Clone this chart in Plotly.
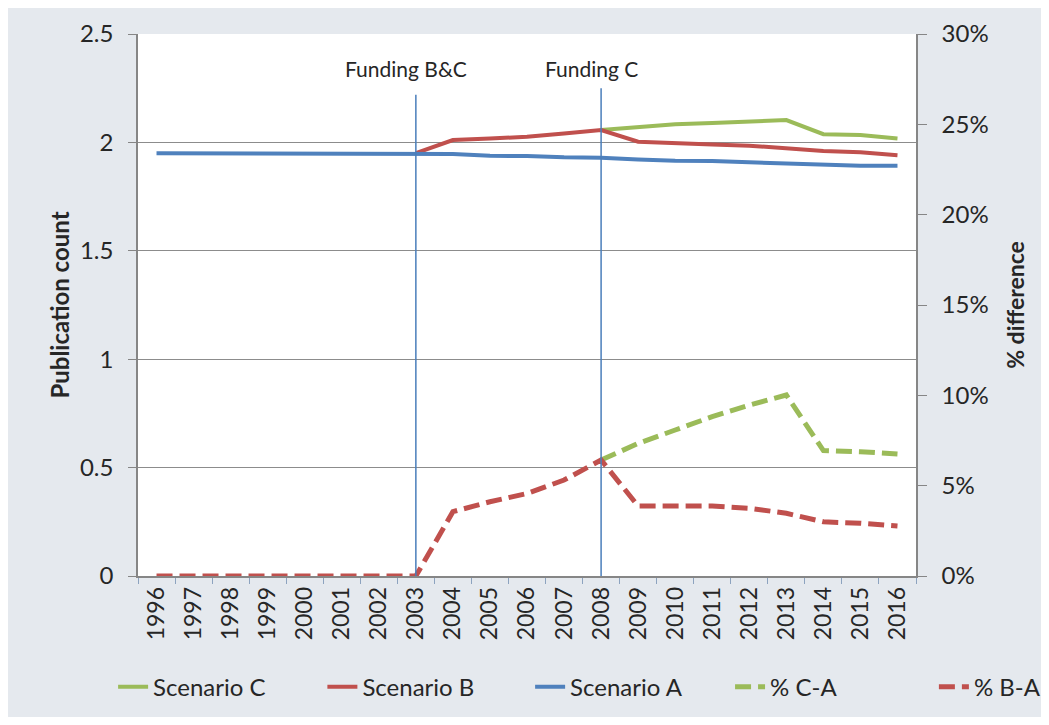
import plotly.graph_objects as go

years = [str(y) for y in range(1996, 2017)]

scenario_c = [None]*12 + [2.057, 2.072, 2.084, 2.090, 2.095, 2.103, 2.038, 2.034, 2.018]
scenario_b = [None]*7 + [1.950, 2.011, 2.018, 2.026, 2.041, 2.057, 2.003, 1.995, 1.990, 1.985, 1.972, 1.960, 1.954, 1.941]
scenario_a = [1.950]*8 + [1.946, 1.938, 1.937, 1.931, 1.929, 1.921, 1.915, 1.914, 1.909, 1.903, 1.897, 1.892, 1.892]
pct_c_a = [None]*12 + [6.42, 7.34, 8.08, 8.82, 9.46, 10.02, 6.94, 6.88, 6.75]
pct_b_a = [0.0]*8 + [3.56, 4.11, 4.57, 5.31, 6.42, 3.87, 3.87, 3.87, 3.75, 3.47, 3.00, 2.92, 2.77]

events = ["Funding B&C", "Funding C"]
event_years = ["2003", "2008"]
event_tops = [2.22, 2.25]

GREEN = "#9bbb59"
RED = "#c0504d"
BLUE = "#4f81bd"
FONT = "Lato, 'Open Sans', sans-serif"
TXT = "#262626"

series = [
    ("Scenario C", scenario_c, GREEN, "solid", "y"),
    ("Scenario B", scenario_b, RED, "solid", "y"),
    ("Scenario A", scenario_a, BLUE, "solid", "y"),
    ("% C-A", pct_c_a, GREEN, "dash", "y2"),
    ("% B-A", pct_b_a, RED, "dash", "y2"),
]
legend_x = [-0.032, 0.237, 0.504, 0.761, 1.023]

fig = go.Figure()
legend_layouts = {}
for i, (name, vals, color, style, yax) in enumerate(series):
    lg = "legend" if i == 0 else f"legend{i+1}"
    line = dict(color=color, width=4) if style == "solid" else dict(color=color, width=5, dash="16px,7px")
    fig.add_trace(go.Scatter(x=years, y=vals, name=name, mode="lines", yaxis=yax,
                             line=line, legend=lg))
    legend_layouts[lg] = dict(orientation="h", x=legend_x[i], xanchor="left",
                              y=-0.205, yanchor="middle",
                              font=dict(family=FONT, size=24, color=TXT),
                              bgcolor="rgba(0,0,0,0)")

for label, yr, top in zip(events, event_years, event_tops):
    idx = years.index(yr)
    fig.add_shape(type="line", xref="x", yref="y", x0=idx, x1=idx, y0=0, y1=top,
                  line=dict(color="#4a7ebb", width=1.5))
    fig.add_annotation(x=idx, y=2.343, xref="x", yref="y", text=label, showarrow=False,
                       xshift=-10, font=dict(family=FONT, size=21, color=TXT))

fig.update_layout(
    width=1033, height=709,
    paper_bgcolor="#e5e9ee", plot_bgcolor="white",
    margin=dict(l=130, r=125, t=26, b=141, autoexpand=False),
    font=dict(family=FONT, size=21, color=TXT),
    showlegend=True,
    xaxis=dict(type="category", range=[-0.5, 20.5], tickangle=-90,
               ticks="outside", tickson="boundaries", ticklen=6, tickcolor="#8da3bf",
               showline=True, linecolor="#868686", linewidth=1.5, showgrid=False,
               tickfont=dict(size=23), automargin=False),
    yaxis=dict(range=[0, 2.5], tickvals=[0, 0.5, 1, 1.5, 2, 2.5],
               ticktext=["0", "0.5", "1", "1.5", "2", "2.5"],
               ticks="outside", ticklen=8, tickcolor="#868686", ticklabelstandoff=10,
               showline=True, linecolor="#868686", linewidth=1.5,
               showgrid=True, gridcolor="#8c8c8c", gridwidth=1.2, zeroline=False,
               tickfont=dict(size=24), automargin=False,
               title=dict(text="<b>Publication count</b>", font=dict(size=24), standoff=4)),
    yaxis2=dict(range=[0, 30], overlaying="y", side="right", dtick=5, ticksuffix="%",
                ticks="outside", ticklen=9, tickcolor="#868686", ticklabelstandoff=10,
                showline=True, linecolor="#868686", linewidth=1.5,
                showgrid=False, zeroline=False, tickfont=dict(size=24), automargin=False,
                title=dict(text="<b>% difference</b>", font=dict(size=23), standoff=20)),
    **legend_layouts,
)

fig.write_html("out.html")
